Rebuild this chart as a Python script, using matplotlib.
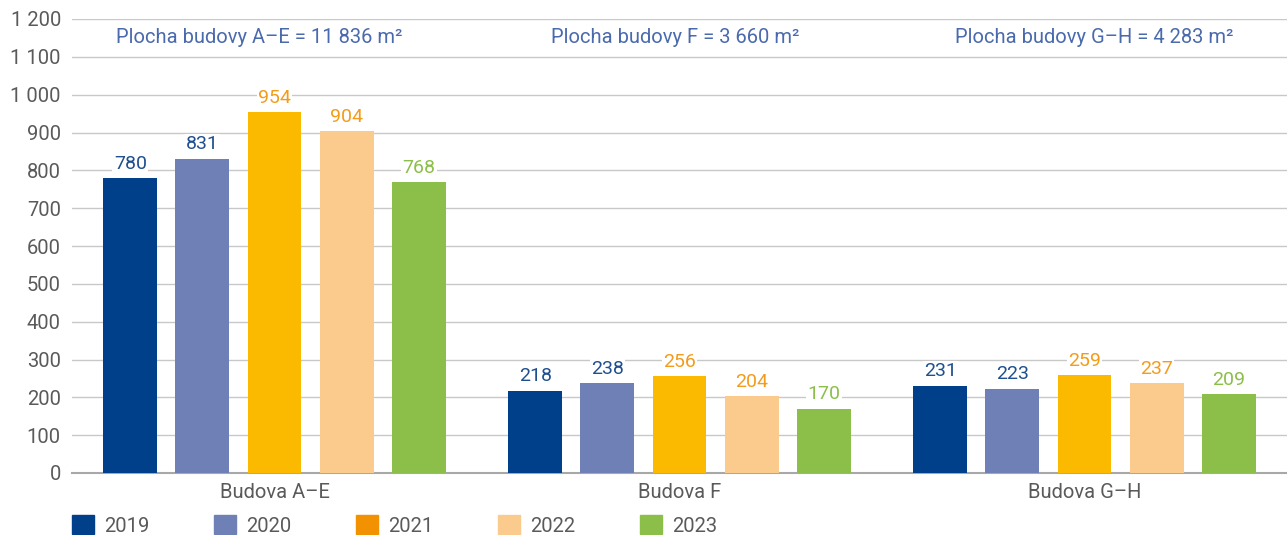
import numpy as np
import matplotlib.pyplot as plt
from matplotlib.patches import Patch

plt.rcParams['font.family'] = ['Roboto', 'DejaVu Sans']

buildings = ["Budova A–E", "Budova F", "Budova G–H"]
areas = ["Plocha budovy A–E = 11 836 m²", "Plocha budovy F = 3 660 m²", "Plocha budovy G–H = 4 283 m²"]
years = ["2019", "2020", "2021", "2022", "2023"]
values = {
    "2019": [780, 218, 231],
    "2020": [831, 238, 223],
    "2021": [954, 256, 259],
    "2022": [904, 204, 237],
    "2023": [768, 170, 209],
}

bar_colors = ["#00408a", "#6e80b6", "#fbb900", "#fbcb8e", "#8bbf4a"]
legend_colors = ["#00408a", "#6e80b6", "#f39200", "#fbcb8e", "#8bbf4a"]
label_colors = ["#1f4f8f", "#1f4f8f", "#f39c1a", "#f39c1a", "#8bbf4a"]
grey = "#5a5a5a"

fig = plt.figure(figsize=(12.87, 5.35), dpi=100)
ax = fig.add_axes([72 / 1287, 1 - 473 / 535, 1 - 72 / 1287, (473 - 19) / 535])

x = np.arange(len(buildings))
step = 0.178
width = 0.133
for i, yr in enumerate(years):
    pos = x + (i - 2) * step
    bars = ax.bar(pos, values[yr], width, color=bar_colors[i], zorder=3)
    for b, v in zip(bars, values[yr]):
        ax.text(b.get_x() + b.get_width() / 2, v + 14, str(v), ha="center", va="bottom",
                fontsize=14, color=label_colors[i], zorder=4,
                bbox=dict(facecolor="white", edgecolor="none", pad=1))

# area captions sit a little off the group centres
shift = [-0.037, -0.01, 0.023]
for xi, dx, t in zip(x, shift, areas):
    ax.text(xi + dx, 1150, t, ha="center", va="center", fontsize=14.5, color="#4a6aae")

ax.set_xlim(-0.5, 2.5)
ax.set_ylim(0, 1200)
yt = np.arange(0, 1201, 100)
ax.set_yticks(yt)
ax.set_yticklabels([f"{v:,}".replace(",", " ") for v in yt])
ax.set_xticks(x)
ax.set_xticklabels(buildings)
ax.yaxis.grid(True, color="#c8c8c8", linewidth=1, zorder=0)
ax.tick_params(axis="both", length=0, labelsize=14.5, colors=grey)
ax.tick_params(axis="y", pad=8)
ax.tick_params(axis="x", pad=7)
for s in ["top", "right", "left"]:
    ax.spines[s].set_visible(False)
ax.spines["bottom"].set_color("#a8a8a8")
ax.spines["bottom"].set_linewidth(1.5)

handles = [Patch(color=c, label=y) for c, y in zip(legend_colors, years)]
fig.legend(handles=handles, loc="lower left", bbox_to_anchor=(54 / 1287, -0.035), ncol=5,
           frameon=False, fontsize=14.5, handlelength=1.1, handleheight=1.1,
           columnspacing=3.2, handletextpad=0.5, labelcolor=grey)

fig.savefig("out.png", dpi=100)
